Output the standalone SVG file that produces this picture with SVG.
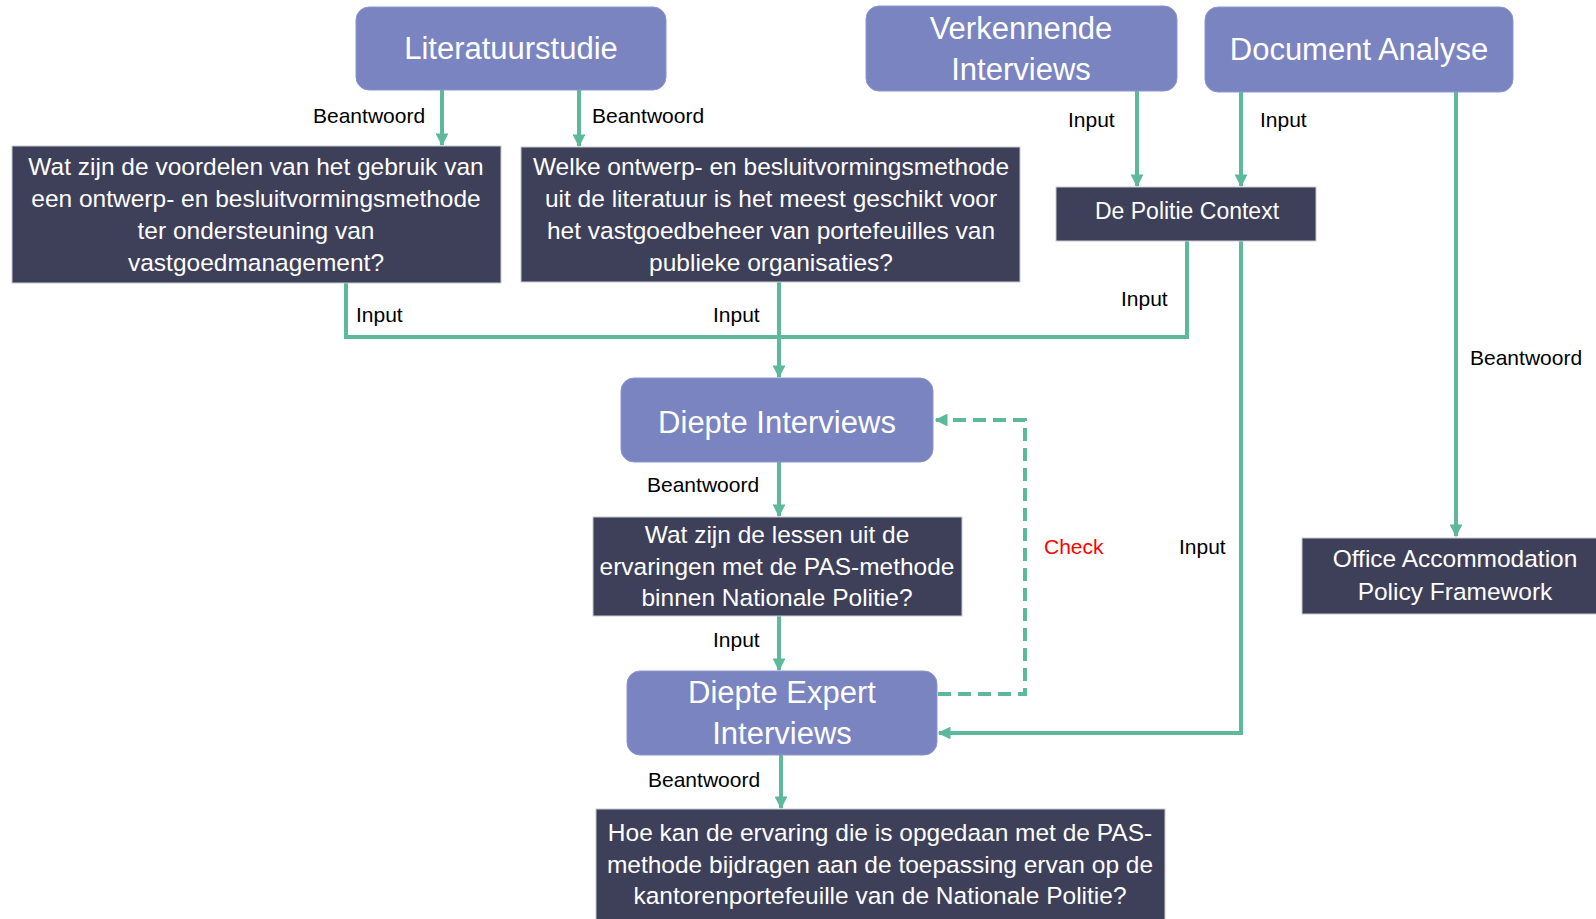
<svg xmlns="http://www.w3.org/2000/svg" width="1596" height="919" viewBox="0 0 1596 919">
<style>
.p{fill:#7A84C1;stroke:#8C95CC;stroke-width:1}
.d{fill:#3E4059;stroke:#C8CAD2;stroke-width:1}
.tt{font-family:"Liberation Sans",Arial,sans-serif;font-size:31px;fill:#fff;text-anchor:middle}
.tb{font-family:"Liberation Sans",Arial,sans-serif;font-size:24.5px;fill:#fff;text-anchor:middle}
.lb{font-family:"Liberation Sans",Arial,sans-serif;font-size:21px;fill:#000}
.c{fill:none;stroke:#5CBA9A;stroke-width:4}
.dash{stroke-dasharray:13 7}
</style>
<defs>
<marker id="ah" viewBox="0 0 10 10" refX="9" refY="5" markerWidth="3.2" markerHeight="3.2" orient="auto" markerUnits="strokeWidth">
<path d="M0,0 L10,5 L0,10 z" fill="#5CBA9A"/>
</marker>
</defs>
<rect width="1596" height="919" fill="#fff"/>
<g id="connectors">
<path class="c" d="M442,90 V145" marker-end="url(#ah)"/>
<path class="c" d="M579,90 V146" marker-end="url(#ah)"/>
<path class="c" d="M1137,91 V186" marker-end="url(#ah)"/>
<path class="c" d="M1241,92 V186" marker-end="url(#ah)"/>
<path class="c" d="M1456,92 V536" marker-end="url(#ah)"/>
<path class="c" d="M346,283 V337 H1187 V241"/>
<path class="c" d="M779,282 V377" marker-end="url(#ah)"/>
<path class="c" d="M1241,241 V733 H939" marker-end="url(#ah)"/>
<path class="c" d="M779,462 V516" marker-end="url(#ah)"/>
<path class="c" d="M779,616 V670" marker-end="url(#ah)"/>
<path class="c" d="M781,755 V808" marker-end="url(#ah)"/>
<path class="c dash" d="M938,694 H1025 V420 H936" marker-end="url(#ah)"/>
</g>
<g id="labels">
<text class="lb" x="313" y="123">Beantwoord</text>
<text class="lb" x="592" y="123">Beantwoord</text>
<text class="lb" x="1068" y="127">Input</text>
<text class="lb" x="1260" y="127">Input</text>
<text class="lb" x="356" y="322">Input</text>
<text class="lb" x="713" y="322">Input</text>
<text class="lb" x="1121" y="306">Input</text>
<text class="lb" x="1470" y="365">Beantwoord</text>
<text class="lb" x="647" y="492">Beantwoord</text>
<text class="lb" x="1044" y="554" style="fill:#FF0000">Check</text>
<text class="lb" x="1179" y="554">Input</text>
<text class="lb" x="713" y="647">Input</text>
<text class="lb" x="648" y="787">Beantwoord</text>
</g>
<g id="literatuurstudie">
<rect class="p" x="356" y="7" width="310" height="83" rx="13"/>
<text class="tt" x="511" y="59">Literatuurstudie</text>
</g>
<g id="verkennende">
<rect class="p" x="866" y="6" width="311" height="85" rx="13"/>
<text class="tt" x="1021" y="39">Verkennende</text>
<text class="tt" x="1021" y="80">Interviews</text>
</g>
<g id="document">
<rect class="p" x="1205" y="7" width="308" height="85" rx="13"/>
<text class="tt" x="1359" y="60">Document Analyse</text>
</g>
<g id="q1">
<rect class="d" x="12" y="146" width="489" height="137"/>
<text class="tb" x="256" y="175">Wat zijn de voordelen van het gebruik van</text>
<text class="tb" x="256" y="207">een ontwerp- en besluitvormingsmethode</text>
<text class="tb" x="256" y="239">ter ondersteuning van</text>
<text class="tb" x="256" y="271">vastgoedmanagement?</text>
</g>
<g id="q2">
<rect class="d" x="521" y="147" width="499" height="135"/>
<text class="tb" x="771" y="175">Welke ontwerp- en besluitvormingsmethode</text>
<text class="tb" x="771" y="207">uit de literatuur is het meest geschikt voor</text>
<text class="tb" x="771" y="239">het vastgoedbeheer van portefeuilles van</text>
<text class="tb" x="771" y="271">publieke organisaties?</text>
</g>
<g id="politie">
<rect class="d" x="1056" y="187" width="260" height="54"/>
<text class="tb" x="1187" y="219" style="font-size:23px">De Politie Context</text>
</g>
<g id="diepte">
<rect class="p" x="621" y="378" width="312" height="84" rx="13"/>
<text class="tt" x="777" y="433">Diepte Interviews</text>
</g>
<g id="q3">
<rect class="d" x="593" y="517" width="369" height="99"/>
<text class="tb" x="777" y="543">Wat zijn de lessen uit de</text>
<text class="tb" x="777" y="575">ervaringen met de PAS-methode</text>
<text class="tb" x="777" y="606">binnen Nationale Politie?</text>
</g>
<g id="office">
<rect class="d" x="1302" y="538" width="300" height="76"/>
<text class="tb" x="1455" y="567">Office Accommodation</text>
<text class="tb" x="1455" y="600">Policy Framework</text>
</g>
<g id="expert">
<rect class="p" x="627" y="671" width="310" height="84" rx="13"/>
<text class="tt" x="782" y="703">Diepte Expert</text>
<text class="tt" x="782" y="744">Interviews</text>
</g>
<g id="qfinal">
<rect class="d" x="596" y="809" width="569" height="120"/>
<text class="tb" x="880" y="841">Hoe kan de ervaring die is opgedaan met de PAS-</text>
<text class="tb" x="880" y="873">methode bijdragen aan de toepassing ervan op de</text>
<text class="tb" x="880" y="904">kantorenportefeuille van de Nationale Politie?</text>
</g>
</svg>
